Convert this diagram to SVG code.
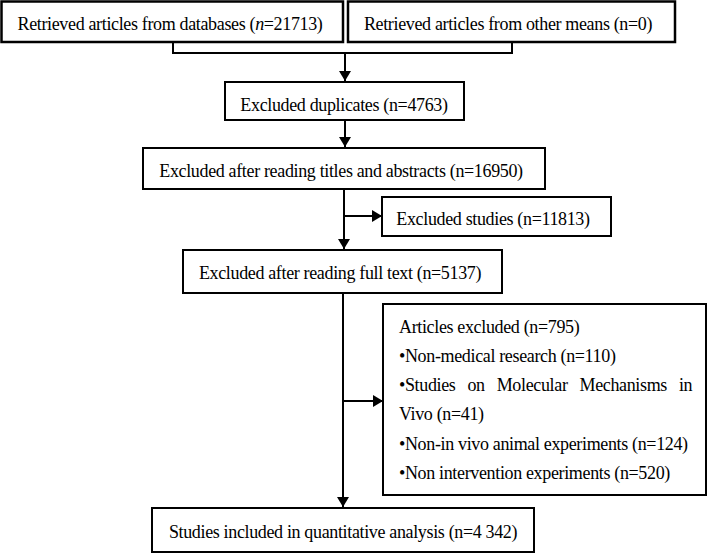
<svg xmlns="http://www.w3.org/2000/svg" width="709" height="555" viewBox="0 0 709 555">
<defs>
<marker id="ah" viewBox="0 0 10 12" refX="10" refY="6" markerWidth="10" markerHeight="12" markerUnits="userSpaceOnUse" orient="auto"><path d="M0,0 L10,6 L0,12 Z" fill="#000"/></marker>
<style>
.box{fill:#fff;stroke:#000;stroke-width:2}
.t{font-family:"Liberation Serif","Times New Roman",serif;font-size:18px;letter-spacing:-0.35px;fill:#000}
.c{text-anchor:middle}
.ln{fill:none;stroke:#000;stroke-width:2}
</style>
</defs>
<rect width="709" height="555" fill="#fff"/>
<g id="connectors">
<path class="ln" d="M173,42 V53 H512 V42"/>
<path class="ln" d="M345,53 V81" marker-end="url(#ah)"/>
<path class="ln" d="M345,120 V147" marker-end="url(#ah)"/>
<path class="ln" d="M344,189 V249" marker-end="url(#ah)"/>
<path class="ln" d="M344,216 H382" marker-end="url(#ah)"/>
<path class="ln" d="M343,293 V507" marker-end="url(#ah)"/>
<path class="ln" d="M343,401 H383" marker-end="url(#ah)"/>
</g>
<g id="n1"><rect class="box" x="1.5" y="1.5" width="341.5" height="40.5" style="stroke-width:2.5"/><text class="t c" x="170" y="30">Retrieved articles from databases (<tspan font-style="italic">n</tspan>=21713)</text></g>
<g id="n2"><rect class="box" x="348" y="1.5" width="327" height="40.5" style="stroke-width:2.5"/><text class="t c" x="508" y="30">Retrieved articles from other means (n=0)</text></g>
<g id="n3"><rect class="box" x="225" y="82" width="239" height="38"/><text class="t c" x="344" y="111">Excluded duplicates (n=4763)</text></g>
<g id="n4"><rect class="box" x="143" y="148" width="402" height="41"/><text class="t c" x="341" y="177">Excluded after reading titles and abstracts (n=16950)</text></g>
<g id="n6"><rect class="box" x="382" y="197" width="229" height="39"/><text class="t c" x="493" y="225">Excluded studies (n=11813)</text></g>
<g id="n5"><rect class="box" x="183" y="250" width="319" height="43"/><text class="t c" x="340" y="279">Excluded after reading full text (n=5137)</text></g>
<g id="n7"><rect class="box" x="383" y="304" width="323" height="191"/>
<text class="t" x="399" y="333">Articles excluded (n=795)</text>
<text class="t" x="399" y="362">•Non-medical research (n=110)</text>
<text class="t" x="399" y="391" word-spacing="7.8">•Studies on Molecular Mechanisms in</text>
<text class="t" x="399" y="420">Vivo (n=41)</text>
<text class="t" x="399" y="450">•Non-in vivo animal experiments (n=124)</text>
<text class="t" x="399" y="479">•Non intervention experiments (n=520)</text>
</g>
<g id="n8"><rect class="box" x="152" y="508" width="382" height="44"/><text class="t c" x="343" y="538">Studies included in quantitative analysis (n=4 342)</text></g>
</svg>
